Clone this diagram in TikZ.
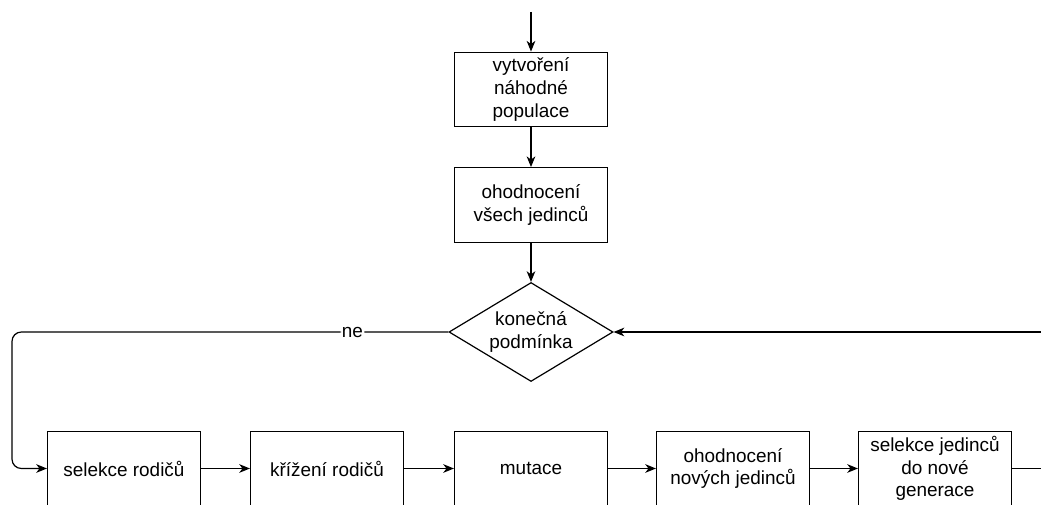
\documentclass[tikz,border=0pt]{standalone}
\usepackage{fontspec}
\setmainfont{Liberation Sans}
\usetikzlibrary{shapes.geometric,arrows.meta}
\begin{document}
\begin{tikzpicture}[x=0.75pt,y=-0.75pt,
  every node/.style={font=\fontsize{14.2}{16.9}\selectfont, align=center},
  stepbox/.style={draw, line width=0.9pt, minimum width=114.75pt, minimum height=56pt, inner sep=0pt},
  decision/.style={draw, diamond, line width=0.9pt, minimum width=123pt, minimum height=74.25pt, inner sep=0pt, aspect=1.66},
  flow/.style={line width=0.9pt, -{Stealth[length=8pt,width=6.5pt,inset=2.4pt]}},
  plain/.style={line width=0.9pt}]
\clip (0,0) rectangle (1041,505);
\useasboundingbox (0,0) rectangle (1041,505);

% process steps
\node[stepbox] (init) at (531,89.5) {vytvoření\\náhodné\\populace};
\node[stepbox] (eval) at (531,205) {ohodnocení\\všech jedinců};
\node[decision] (cond) at (531,332) {konečná\\podmínka};
\node[stepbox] (sel) at (124,468.5) {selekce rodičů};
\node[stepbox] (cross) at (327,468.5) {křížení rodičů};
\node[stepbox] (mut) at (531,468.5) {mutace};
\node[stepbox] (evalnew) at (733,468.5) {ohodnocení\\nových jedinců};
\node[stepbox] (selnew) at (935,468.5) {selekce jedinců\\do nové\\generace};

% free ends of the connectors
\coordinate (start) at (531,12);
\coordinate (loopin) at (1041,332);
\coordinate (loopout) at (1041,468.5);

% connectors
\draw[flow] (start) -- (init);
\draw[flow] (init) -- (eval);
\draw[flow] (eval) -- (cond);
\draw[flow, rounded corners=7pt] (cond.west) -- node[pos=0.22, fill=white, inner sep=1pt] (ne) {ne} (12,332) -- (12,468.5) -- (sel.west);
\draw[flow] (sel) -- (cross);
\draw[flow] (cross) -- (mut);
\draw[flow] (mut) -- (evalnew);
\draw[flow] (evalnew) -- (selnew);
\draw[plain] (selnew.east) -- (loopout);
\draw[flow] (loopin) -- (cond.east);
\end{tikzpicture}
\end{document}
